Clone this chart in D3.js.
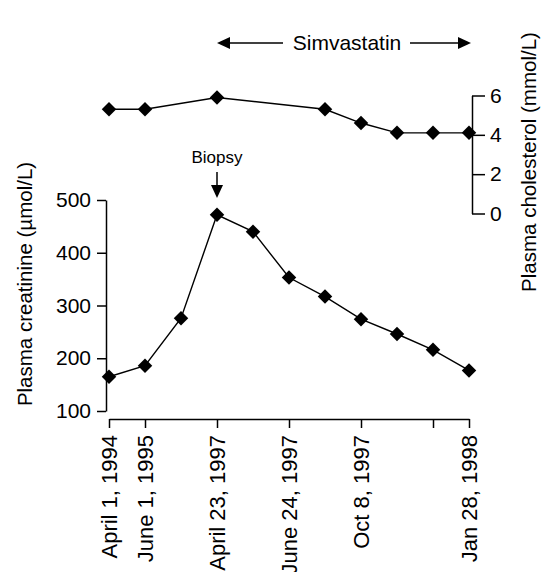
<!DOCTYPE html>
<html>
<head>
<meta charset="utf-8">
<script src="https://cdn.jsdelivr.net/npm/d3@7"></script>
<style>
  body { margin: 0; background: #fff; }
  text { font-family: 'Liberation Sans', Arial, sans-serif; fill: #000; }
</style>
</head>
<body>
<div id="chart"></div>
<script>
// visits (index along x), labels only on some of them
const visits = [0, 1, 2, 3, 4, 5, 6, 7, 8, 9, 10]
const tickVisits = [0, 1, 3, 5, 7, 9, 10]
const tickLabels = ['April 1, 1994', 'June 1, 1995', '', 'April 23, 1997', '', 'June 24, 1997', '', 'Oct 8, 1997', '', '', 'Jan 28, 1998']

// plasma creatinine (umol/L), one per visit
const creatinine = [165, 186, 276, 472, 440, 353, 317, 274, 246, 216, 177]

// plasma cholesterol (mmol/L), measured on some visits only
const cholVisits = [0, 1, 3, 6, 7, 8, 9, 10]
const cholesterol = [5.3, 5.3, 5.9, 5.3, 4.6, 4.1, 4.1, 4.1]

const creatTicks = [100, 200, 300, 400, 500]
const cholTicks = [0, 2, 4, 6]

const width = 543
const height = 572

const svg = d3.select('#chart')
  .append('svg')
  .attr('width', width)
  .attr('height', height)

// scales
const x = d3.scalePoint()
  .domain(visits)
  .range([109, 469])

const yCreat = d3.scaleLinear()
  .domain([100, 500])
  .range([411, 200])

const yChol = d3.scaleLinear()
  .domain([0, 6])
  .range([213.5, 95.5])

// axes
const leftAxis = svg.append('g')
  .attr('transform', 'translate(106,0)')
  .call(d3.axisLeft(yCreat).tickValues(creatTicks).tickSize(9).tickSizeOuter(0).tickPadding(6))

const bottomAxis = svg.append('g')
  .attr('transform', 'translate(0,419)')
  .call(d3.axisBottom(x).tickValues(tickVisits).tickSize(9).tickSizeOuter(0)
    .tickFormat(d => tickLabels[d]))

bottomAxis.selectAll('.tick text')
  .attr('transform', 'rotate(-90)')
  .attr('text-anchor', 'end')
  .attr('x', -16)
  .attr('y', 0)
  .attr('dy', '0.35em')
  .style('font-size', '22px')

const rightAxis = svg.append('g')
  .attr('transform', 'translate(472,0)')
  .call(d3.axisRight(yChol).tickValues(cholTicks).tickSize(13).tickSizeOuter(0).tickPadding(5)
    .tickFormat(d3.format('d')))

svg.selectAll('.domain, .tick line')
  .attr('stroke', '#000')
  .attr('stroke-width', 1.5)

leftAxis.selectAll('.tick text').style('font-size', '21px')
rightAxis.selectAll('.tick text').style('font-size', '21px')
svg.selectAll('.tick text').attr('font-family', null)

// axis titles
svg.append('text')
  .text('Plasma creatinine (\u00b5mol/L)')
  .attr('transform', 'translate(32,284) rotate(-90)')
  .attr('text-anchor', 'middle')
  .style('font-size', '20.5px')

svg.append('text')
  .text('Plasma cholesterol (mmol/L)')
  .attr('transform', 'translate(536,162) rotate(-90)')
  .attr('text-anchor', 'middle')
  .style('font-size', '20.5px')

// lines
const creatLine = d3.line()
  .x((d, i) => x(visits[i]))
  .y(d => yCreat(d))

const cholLine = d3.line()
  .x((d, i) => x(cholVisits[i]))
  .y(d => yChol(d))

svg.append('path')
  .datum(creatinine)
  .attr('d', creatLine)
  .attr('fill', 'none')
  .attr('stroke', '#000')
  .attr('stroke-width', 1.4)

svg.append('path')
  .datum(cholesterol)
  .attr('d', cholLine)
  .attr('fill', 'none')
  .attr('stroke', '#000')
  .attr('stroke-width', 1.4)

const diamond = d3.symbol().type(d3.symbolSquare).size(105)

svg.selectAll('.creat')
  .data(creatinine)
  .enter()
  .append('path')
  .attr('class', 'creat')
  .attr('d', diamond)
  .attr('transform', (d, i) => `translate(${x(visits[i])},${yCreat(d)}) rotate(45)`)
  .attr('fill', '#000')

svg.selectAll('.chol')
  .data(cholesterol)
  .enter()
  .append('path')
  .attr('class', 'chol')
  .attr('d', diamond)
  .attr('transform', (d, i) => `translate(${x(cholVisits[i])},${yChol(d)}) rotate(45)`)
  .attr('fill', '#000')

// biopsy annotation
const bx = x(3)
svg.append('text')
  .text('Biopsy')
  .attr('x', bx)
  .attr('y', 163)
  .attr('text-anchor', 'middle')
  .style('font-size', '17px')

svg.append('line')
  .attr('x1', bx).attr('x2', bx)
  .attr('y1', 172).attr('y2', 186)
  .attr('stroke', '#000')
  .attr('stroke-width', 1.5)

svg.append('path')
  .attr('d', `M${bx - 6},185 L${bx + 6},185 L${bx},198 Z`)
  .attr('fill', '#000')

// simvastatin span
const sx0 = x(3)
const sx1 = x(10)
svg.append('text')
  .text('Simvastatin')
  .attr('x', 347)
  .attr('y', 50)
  .attr('text-anchor', 'middle')
  .style('font-size', '21px')

svg.append('line')
  .attr('x1', sx0 + 10).attr('x2', 283)
  .attr('y1', 43).attr('y2', 43)
  .attr('stroke', '#000')
  .attr('stroke-width', 1.5)

svg.append('line')
  .attr('x1', 410).attr('x2', sx1 - 10)
  .attr('y1', 43).attr('y2', 43)
  .attr('stroke', '#000')
  .attr('stroke-width', 1.5)

svg.append('path')
  .attr('d', `M${sx0},43 L${sx0 + 13},37 L${sx0 + 13},49 Z`)
  .attr('fill', '#000')

svg.append('path')
  .attr('d', `M${sx1 + 2},43 L${sx1 - 11},37 L${sx1 - 11},49 Z`)
  .attr('fill', '#000')
</script>
</body>
</html>
